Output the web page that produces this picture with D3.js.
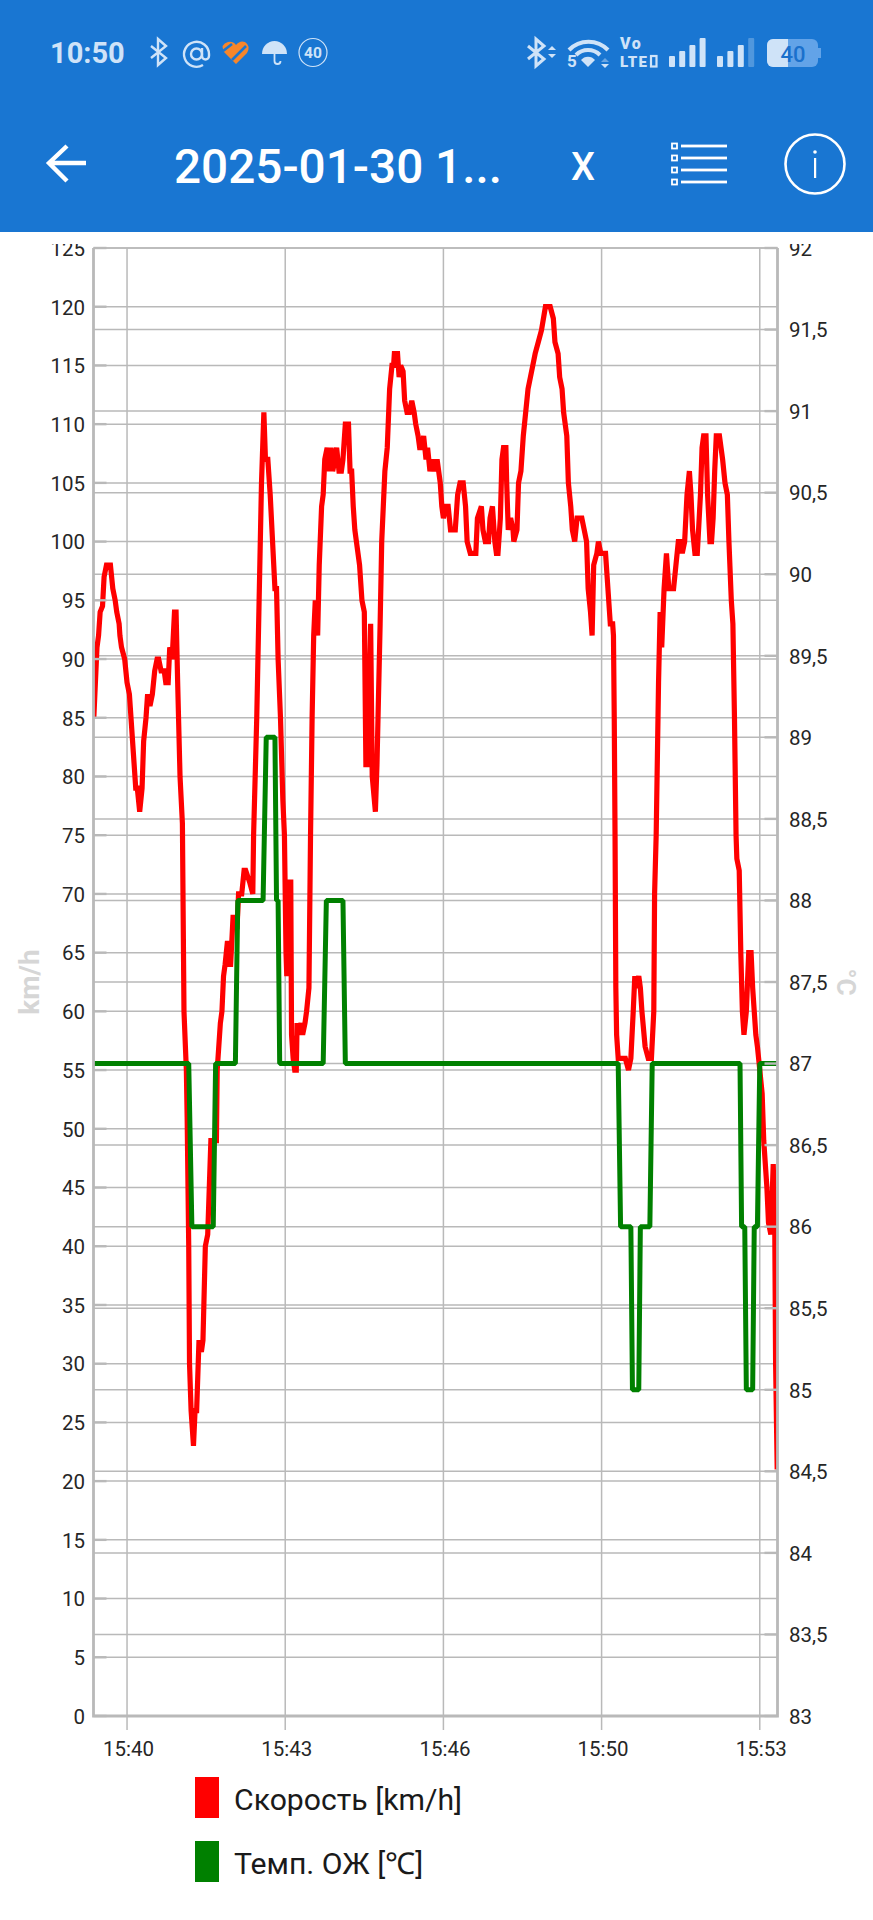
<!DOCTYPE html>
<html>
<head>
<meta charset="utf-8">
<script src="https://cdn.jsdelivr.net/npm/d3@7"></script>
<style>
  html, body { margin: 0; padding: 0; background: #fff; }
  svg { display: block; font-family: Roboto, sans-serif; }
</style>
</head>
<body>
<div id="d3-container"></div>
<script>
// seconds after 15:40:00
const speedTimes = [
  -42, -39, -38, -36, -34, -31, -29, -26, -21, -18, -15, -13, -10, -9, -7, -3, 0, 3, 5, 8, 11, 13, 16, 19, 21, 24, 26, 29,
  32, 35, 38, 40, 43, 47, 49, 52, 54, 57, 60, 62, 64, 67, 70, 72, 75, 76, 78, 79, 81, 84, 86, 88, 90, 91, 94, 96, 99, 102,
  104, 106, 113, 114, 118, 120, 122, 124, 127, 129, 131, 134, 137, 139, 141, 145, 148, 150, 155, 159, 160, 164, 167, 170,
  173, 175, 178, 181, 184, 187, 189, 191, 194, 197, 199, 201, 202, 203, 207, 208, 210, 212, 214, 215, 217, 220, 222, 225,
  227, 230, 232, 234, 236, 238, 241, 243, 246, 248, 250, 253, 256, 258, 260, 263, 265, 268, 271, 273, 276, 280, 282, 284,
  286, 288, 290, 294, 297, 300, 302, 304, 308, 310, 314, 316, 320, 322, 324, 326, 329, 332, 335, 337, 338, 342, 344, 346,
  349, 351, 354, 357, 360, 363, 365, 368, 370, 373, 375, 378, 380, 383, 386, 389, 392, 396, 398, 400, 403, 406, 409, 415,
  418, 421, 425, 428, 430, 434, 437, 441, 443, 448, 450, 453, 457, 459, 462, 465, 467, 469, 472, 474, 476, 479, 480, 482,
  485, 488, 489, 493, 495, 498, 501, 504, 507, 510, 513, 516, 520, 524, 529, 535, 539, 541, 545, 547, 550, 552, 556, 558,
  561, 563, 566, 569, 575, 578, 581, 583, 586, 588, 590, 594, 596, 599, 602, 605, 607, 611, 614, 615, 616, 617, 618, 619,
  621, 625, 630, 634, 637, 640, 642, 644, 647, 649, 651, 655, 659, 663, 666, 667, 669, 672, 673, 674, 676, 679, 682, 685,
  687, 691, 694, 697, 700, 702, 705, 708, 711, 713, 715, 718, 721, 725, 727, 729, 732, 734, 737, 739, 741, 743, 745, 749,
  751, 753, 756, 759, 761, 764, 766, 768, 770, 771, 774, 776, 778, 780, 783, 786, 789, 791, 793, 795, 797, 800, 803, 805,
  809, 811, 814, 817, 819, 820, 822
]
const speedValues = [
  85, 89.5, 91, 92, 94, 94.5, 97, 98, 98, 96, 95, 94, 93, 92, 91, 90, 88, 87, 85, 82, 79, 79, 77, 79, 83, 85, 87, 86,
  87, 89, 90, 90, 89, 89, 88, 88, 91, 90, 94, 94, 88, 80, 76, 60, 55, 51, 40, 30, 26, 23, 26, 26, 30, 32, 31, 32, 40, 41,
  45, 49, 49, 55, 59, 60, 63, 64, 66, 64, 64, 68, 68, 67, 70, 70, 72, 72, 71, 70, 75, 85, 95, 105,
  111, 107, 107, 104, 100, 96, 96, 90, 85, 78, 75, 65, 63, 71, 71, 58, 56, 55, 55, 59, 58, 59, 58, 59,
  60, 62, 75, 85, 92, 95, 92, 98, 103, 104, 107, 108, 106, 108, 106, 107, 108, 106, 106, 107, 110, 110, 106, 106,
  103, 101, 100, 98, 95, 94, 81, 81, 93, 80, 77, 81, 93, 100, 103, 106, 108, 113, 115, 115, 116, 116, 114, 115,
  114.5, 112, 111, 111, 112, 111, 110, 109, 108, 108, 109, 107, 108, 106, 107, 106, 107, 105, 103, 102, 103, 103, 101, 101,
  104, 105, 105, 103, 100, 99, 99, 99, 102, 103, 101, 100, 100, 102, 103, 100, 99, 99, 102, 107, 108, 108, 105, 101,
  102, 101, 100, 101, 105, 106, 109, 111, 113, 114, 115, 116, 117, 118, 120, 120, 119, 117, 116, 114, 113, 111, 109, 105,
  103, 101, 100, 102, 102, 101, 100, 96, 94, 92, 98, 99, 100, 99, 99, 99, 97, 93, 93, 92, 85, 75, 62, 58,
  56, 56, 56, 55, 56, 60, 63, 62, 63, 62, 60, 57, 56, 56, 60, 70, 75, 88, 91, 94, 91, 96, 99, 96,
  96, 96, 98, 100, 100, 99, 100, 104, 106, 104, 101, 99, 99, 104, 108, 109, 109, 104, 100, 100, 102, 106, 109, 109,
  108, 107, 105, 104, 100, 95, 93, 85, 75, 73, 72, 65, 60, 58, 60, 65, 65, 62, 60, 58, 57, 55, 53, 49,
  45, 42, 41, 47, 41, 30, 21
]
const tempTimes = [
  -42, 78, 82, 109, 112, 137, 140, 172, 176, 187, 189, 191, 193, 248, 252, 273, 276,
  621, 624, 637, 639, 647, 649, 661, 664, 775, 777, 781, 783, 791, 793, 797, 800, 823
]
const tempValues = [
  87, 87, 86, 86, 87, 87, 88, 88, 89, 89, 88, 88, 87, 87, 88, 88, 87,
  87, 86, 86, 85, 85, 86, 86, 87, 87, 86, 86, 85, 85, 86, 86, 87, 87
]

const xDomain = [-42.4, 822.4]
const xTicks = [0, 200, 400, 600, 800]
const xTickLabels = ['15:40', '15:43', '15:46', '15:50', '15:53']
const speedDomain = [0, 125]
const speedTicks = d3.range(0, 130, 5)
const tempDomain = [83, 92]
const tempTicks = d3.range(83, 92.5, 0.5)
const legendNames = ['Скорость [km/h]', 'Темп. ОЖ [℃]']
const legendColors = ['#ff0000', '#008000']

const width = 873
const height = 1920
const chart = { left: 93.5, right: 777.5, top: 248, bottom: 1716 }
const gridColor = '#b9b9b9'
const headerBlue = '#1976d2'
const iconBlue = '#cfe3f8'

const svg = d3
  .select('#d3-container')
  .append('svg')
  .attr('width', width)
  .attr('height', height)
  .attr('viewBox', [0, 0, width, height])

const x = d3.scaleLinear().domain(xDomain).range([chart.left, chart.right])
const ySpeed = d3.scaleLinear().domain(speedDomain).range([chart.bottom, chart.top])
const yTemp = d3.scaleLinear().domain(tempDomain).range([chart.bottom, chart.top])

drawHeader()
drawGrid()
drawSeries()
drawAxes()
drawLegend()

function drawGrid() {
  const g = svg.append('g').attr('stroke', gridColor).attr('stroke-width', 1.5)
  g.selectAll('.h1')
    .data(speedTicks)
    .join('line')
    .attr('class', 'h1')
    .attr('x1', chart.left)
    .attr('x2', chart.right)
    .attr('y1', d => ySpeed(d))
    .attr('y2', d => ySpeed(d))
  g.selectAll('.h2')
    .data(tempTicks)
    .join('line')
    .attr('class', 'h2')
    .attr('x1', chart.left)
    .attr('x2', chart.right)
    .attr('y1', d => yTemp(d))
    .attr('y2', d => yTemp(d))
  g.selectAll('.v')
    .data(xTicks)
    .join('line')
    .attr('class', 'v')
    .attr('x1', d => x(d))
    .attr('x2', d => x(d))
    .attr('y1', chart.top)
    .attr('y2', chart.bottom + 14)
}

function drawSeries() {
  svg
    .append('clipPath')
    .attr('id', 'plot-clip')
    .append('rect')
    .attr('x', chart.left)
    .attr('y', chart.top)
    .attr('width', chart.right - chart.left)
    .attr('height', chart.bottom - chart.top)

  const plot = svg.append('g').attr('clip-path', 'url(#plot-clip)').attr('fill', 'none')

  const speedLine = d3
    .line()
    .x(i => x(speedTimes[i]))
    .y(i => ySpeed(speedValues[i]))
  plot
    .append('path')
    .attr('d', speedLine(d3.range(speedTimes.length)))
    .attr('stroke', legendColors[0])
    .attr('stroke-width', 5.2)
    .attr('stroke-linejoin', 'miter')
    .attr('stroke-miterlimit', 2)

  const tempLine = d3
    .line()
    .x(i => x(tempTimes[i]))
    .y(i => yTemp(tempValues[i]))
  plot
    .append('path')
    .attr('d', tempLine(d3.range(tempTimes.length)))
    .attr('stroke', legendColors[1])
    .attr('stroke-width', 5)
    .attr('stroke-linejoin', 'bevel')
}

function drawAxes() {
  const axes = svg.append('g').attr('stroke', gridColor).attr('fill', 'none')
  axes
    .append('path')
    .attr('d', d3.line()([[chart.left, chart.top], [chart.left, chart.bottom], [chart.right, chart.bottom], [chart.right, chart.top]]))
    .attr('stroke-width', 2.8)

  // short inward ticks on both value axes
  axes
    .selectAll('.tl')
    .data(speedTicks)
    .join('line')
    .attr('class', 'tl')
    .attr('x1', chart.left)
    .attr('x2', chart.left + 13)
    .attr('y1', d => ySpeed(d))
    .attr('y2', d => ySpeed(d))
    .attr('stroke-width', 2.4)
  axes
    .selectAll('.tr')
    .data(tempTicks)
    .join('line')
    .attr('class', 'tr')
    .attr('x1', chart.right - 13)
    .attr('x2', chart.right)
    .attr('y1', d => yTemp(d))
    .attr('y2', d => yTemp(d))
    .attr('stroke-width', 2.4)

  // top labels are cut off by the view edge
  svg
    .append('clipPath')
    .attr('id', 'label-clip')
    .append('rect')
    .attr('x', 0)
    .attr('y', 244)
    .attr('width', width)
    .attr('height', height - 244)

  const labels = svg
    .append('g')
    .attr('clip-path', 'url(#label-clip)')
    .attr('font-size', 20.5)
    .attr('fill', '#262626')

  labels
    .selectAll('.ls')
    .data(speedTicks)
    .join('text')
    .attr('class', 'ls')
    .attr('x', 85)
    .attr('y', d => ySpeed(d) + 7.8)
    .attr('text-anchor', 'end')
    .text(d => d)
  labels
    .selectAll('.lt')
    .data(tempTicks)
    .join('text')
    .attr('class', 'lt')
    .attr('x', 789)
    .attr('y', d => yTemp(d) + 7.8)
    .text(d => String(d).replace('.', ','))
  labels
    .selectAll('.lx')
    .data(xTicks)
    .join('text')
    .attr('class', 'lx')
    .attr('x', d => x(d) + 1.5)
    .attr('y', 1756)
    .attr('text-anchor', 'middle')
    .text((d, i) => xTickLabels[i])

  svg
    .append('text')
    .text('km/h')
    .attr('transform', 'translate(39, 982) rotate(-90)')
    .attr('text-anchor', 'middle')
    .attr('font-size', 28)
    .attr('font-weight', 700)
    .attr('fill', '#d6d6d6')
  svg
    .append('text')
    .text('°C')
    .attr('transform', 'translate(837, 982) rotate(90)')
    .attr('text-anchor', 'middle')
    .attr('font-size', 26)
    .attr('font-weight', 700)
    .attr('fill', '#d6d6d6')
}

function drawLegend() {
  const items = svg
    .append('g')
    .selectAll('g')
    .data(legendNames)
    .join('g')
    .attr('transform', (d, i) => `translate(195, ${1777 + i * 64})`)
  items
    .append('rect')
    .attr('width', 24)
    .attr('height', 41)
    .attr('fill', (d, i) => legendColors[i])
  items
    .append('text')
    .attr('x', 39)
    .attr('y', 33)
    .attr('font-size', 30.2)
    .attr('fill', '#1a1a1a')
    .text(d => d)
}

function drawHeader() {
  const header = svg.append('g')
  header.append('rect').attr('width', width).attr('height', 232).attr('fill', headerBlue)

  // status bar, left side
  const status = header.append('g').attr('fill', iconBlue)
  status
    .append('text')
    .text('10:50')
    .attr('x', 50)
    .attr('y', 63)
    .attr('font-size', 29)
    .attr('font-weight', 700)
  status
    .append('path')
    .attr('d', 'M151 46 L166 58 L158 65 V39 L166 46 L151 58')
    .attr('fill', 'none')
    .attr('stroke', iconBlue)
    .attr('stroke-width', 2.4)
  status
    .append('circle')
    .attr('cx', 196.5)
    .attr('cy', 54)
    .attr('r', 5.5)
    .attr('fill', 'none')
    .attr('stroke', iconBlue)
    .attr('stroke-width', 2.4)
  status
    .append('path')
    .attr('d', 'M202 48 V56 a3.5 3.5 0 0 0 7 0 V54 A12.5 12.5 0 1 0 203 65')
    .attr('fill', 'none')
    .attr('stroke', iconBlue)
    .attr('stroke-width', 2.4)
  header
    .append('path')
    .attr('d', 'M236 64 L224 52 Q220 44 228 42 Q233 41 236 45 Q240 40 245 42 Q251 46 247 53 Z')
    .attr('fill', '#f7862a')
  header
    .append('path')
    .attr('d', 'M232 44 L223 51 M246 46 L232 60')
    .attr('stroke', headerBlue)
    .attr('stroke-width', 2.6)
  status.append('path').attr('d', 'M262 54 A12.5 13 0 0 1 287 54 Z')
  status
    .append('path')
    .attr('d', 'M274.5 54 V61 a3 3 0 0 0 6 0')
    .attr('fill', 'none')
    .attr('stroke', iconBlue)
    .attr('stroke-width', 1.8)
  status
    .append('circle')
    .attr('cx', 313)
    .attr('cy', 52.5)
    .attr('r', 14)
    .attr('fill', 'none')
    .attr('stroke', iconBlue)
    .attr('stroke-width', 1.2)
  status
    .append('text')
    .text('40')
    .attr('x', 313)
    .attr('y', 58)
    .attr('text-anchor', 'middle')
    .attr('font-size', 15.5)
    .attr('font-weight', 700)

  // status bar, right side
  status
    .append('path')
    .attr('d', 'M528 46 L544 59 L536 66 V39 L544 46 L528 59')
    .attr('fill', 'none')
    .attr('stroke', iconBlue)
    .attr('stroke-width', 3)
  status.append('path').attr('d', 'M548 50 L552 46 L556 50 Z M548 54 L556 54 L552 58 Z')
  const wifi = status.append('g').attr('fill', 'none').attr('stroke', iconBlue).attr('stroke-width', 4)
  wifi.append('path').attr('d', 'M569 50 A27 27 0 0 1 608 50')
  wifi.append('path').attr('d', 'M576 55 A17 17 0 0 1 600 55')
  status.append('path').attr('d', 'M581 60 A9 9 0 0 1 595 60 L588 67 Z')
  status.append('text').text('5').attr('x', 567).attr('y', 67).attr('font-size', 17).attr('font-weight', 700)
  status.append('path').attr('d', 'M601 62 L605 58 L609 62 Z').attr('opacity', 0.45)
  status.append('path').attr('d', 'M601 64 L609 64 L605 68 Z')
  status
    .append('text')
    .text('Vo')
    .attr('x', 620)
    .attr('y', 49)
    .attr('font-size', 16)
    .attr('font-weight', 900)
    .attr('letter-spacing', 1.5)
  status
    .append('text')
    .text('LTE')
    .attr('x', 620)
    .attr('y', 67)
    .attr('font-size', 15)
    .attr('font-weight', 900)
    .attr('letter-spacing', 1.2)
  status
    .append('rect')
    .attr('x', 651)
    .attr('y', 56)
    .attr('width', 5.5)
    .attr('height', 10.5)
    .attr('fill', 'none')
    .attr('stroke', iconBlue)
    .attr('stroke-width', 2.2)
  const barTops = [56, 51, 45, 38]
  status
    .selectAll('.sig1')
    .data(barTops)
    .join('rect')
    .attr('class', 'sig1')
    .attr('x', (d, i) => 669 + i * 10.2)
    .attr('y', d => d)
    .attr('width', 6)
    .attr('height', d => 67 - d)
    .attr('rx', 1)
  status
    .selectAll('.sig2')
    .data(barTops)
    .join('rect')
    .attr('class', 'sig2')
    .attr('x', (d, i) => 717 + i * 10.4)
    .attr('y', d => d)
    .attr('width', 6)
    .attr('height', d => 67 - d)
    .attr('rx', 1)
    .attr('opacity', (d, i) => (i === 3 ? 0.3 : 1))
  header
    .append('rect')
    .attr('x', 767)
    .attr('y', 39)
    .attr('width', 51)
    .attr('height', 28)
    .attr('rx', 6)
    .attr('fill', '#62a3e8')
  header
    .append('rect')
    .attr('x', 818)
    .attr('y', 48)
    .attr('width', 3)
    .attr('height', 10)
    .attr('fill', '#62a3e8')
  header
    .append('path')
    .attr('d', 'M788 39 H773 a6 6 0 0 0 -6 6 V61 a6 6 0 0 0 6 6 H788 Z')
    .attr('fill', iconBlue)
  header
    .append('text')
    .text('40')
    .attr('x', 793)
    .attr('y', 62)
    .attr('text-anchor', 'middle')
    .attr('font-size', 22)
    .attr('font-weight', 500)
    .attr('fill', '#1a70cc')

  // app bar
  const bar = header.append('g').attr('fill', '#fff')
  bar
    .append('path')
    .attr('d', 'M86 163 H50 M67 146 L49 163 L67 181')
    .attr('fill', 'none')
    .attr('stroke', '#fff')
    .attr('stroke-width', 4.4)
  bar
    .append('text')
    .text('2025-01-30 1...')
    .attr('x', 174)
    .attr('y', 183)
    .attr('font-size', 47.7)
    .attr('font-weight', 500)
  bar.append('text').text('X').attr('x', 583).attr('y', 180).attr('text-anchor', 'middle').attr('font-size', 38).attr('font-weight', 500)
  const rows = bar
    .selectAll('.row')
    .data([146, 158, 170, 182])
    .join('g')
    .attr('class', 'row')
    .attr('transform', d => `translate(0, ${d})`)
  rows
    .append('rect')
    .attr('x', 672)
    .attr('y', -2.5)
    .attr('width', 5)
    .attr('height', 5)
    .attr('fill', 'none')
    .attr('stroke', '#fff')
    .attr('stroke-width', 1.8)
  rows.append('rect').attr('x', 681).attr('y', -1.4).attr('width', 46).attr('height', 2.8)
  bar
    .append('circle')
    .attr('cx', 815)
    .attr('cy', 164)
    .attr('r', 29.5)
    .attr('fill', 'none')
    .attr('stroke', '#fff')
    .attr('stroke-width', 2.6)
  bar.append('circle').attr('cx', 815).attr('cy', 152).attr('r', 1.8)
  bar.append('rect').attr('x', 814).attr('y', 158).attr('width', 2.2).attr('height', 20)
}
</script>
</body>
</html>
